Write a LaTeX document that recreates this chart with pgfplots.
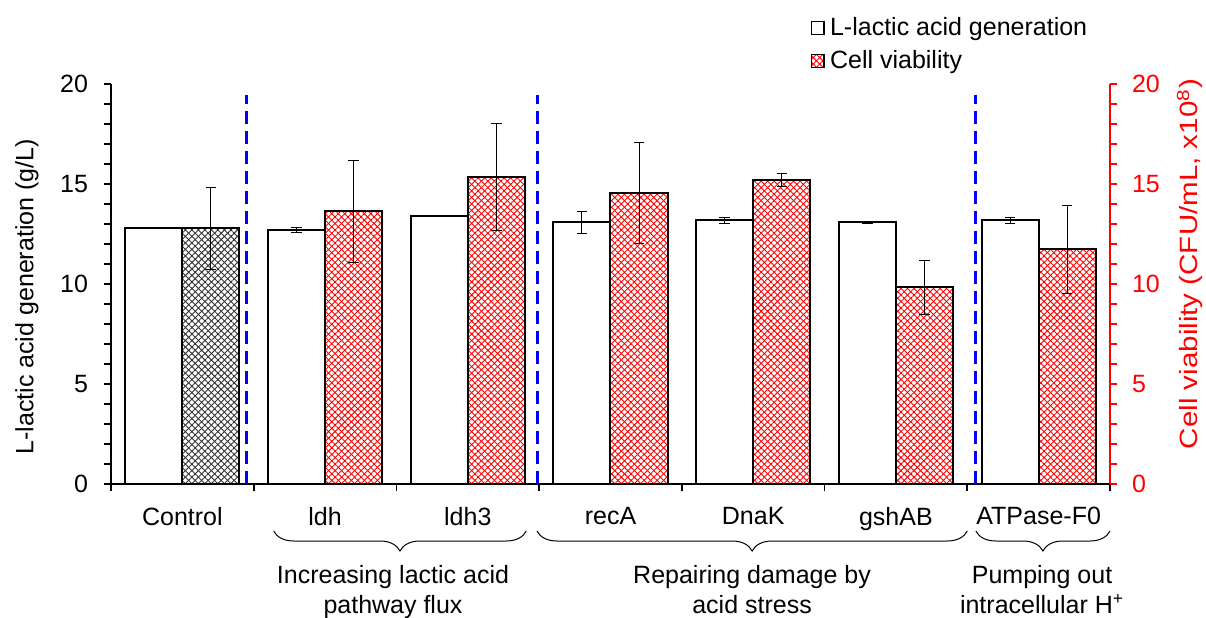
\documentclass[border=0pt]{standalone}
\usepackage{fontspec}
\setmainfont{Liberation Sans}
\usepackage{pgfplots}
\usepackage{pgfplotstable}
\pgfplotsset{compat=1.18}
\usetikzlibrary{patterns,patterns.meta,decorations.pathreplacing}

\newcommand\chartfont{\fontsize{12.5}{15}\selectfont}

% L-lactic acid generation (g/L) with standard deviation
\pgfplotstableread{
x  val    err
0  12.80  0.00
1  12.70  0.12
2  13.40  0.03
3  13.10  0.55
4  13.20  0.15
5  13.10  0.05
6  13.20  0.15
}\lactic

% Cell viability (CFU/mL, x10^8) of the engineered strains
\pgfplotstableread{
x  val    err
1  13.65  2.55
2  15.35  2.70
3  14.55  2.50
4  15.20  0.35
5  9.85   1.35
6  11.75  2.20
}\viability

% Cell viability of the control strain
\pgfplotstableread{
x  val    err
0  12.80  2.05
}\viabilityctrl

\tikzset{
  hatch/.style={fill=white,
    postaction={pattern={Lines[angle=45,distance=2.3pt,line width=0.45pt]}, pattern color=#1},
    postaction={pattern={Lines[angle=-45,distance=2.3pt,line width=0.45pt]}, pattern color=#1}},
}
\pgfplotsset{
  barerr/.style={error bars/.cd, y dir=both, y explicit,
    error bar style={line width=0.5pt, black},
    error mark options={rotate=90, mark size=2.6pt, line width=0.5pt, black}},
}

\begin{document}
\begin{tikzpicture}[font=\chartfont]
\useasboundingbox (0,0) rectangle (603pt,308.5pt);
\begin{axis}[
  at={(55.5pt,66.5pt)}, anchor=south west,
  scale only axis, width=499.5pt, height=200pt,
  xmin=-0.5, xmax=6.5, ymin=0, ymax=20,
  enlarge x limits=false,
  axis x line*=bottom, axis y line*=left,
  axis line style={line width=0.8pt},
  clip=false,
  xtick={-0.5,0.5,1.5,2.5,3.5,4.5,5.5,6.5},
  xticklabels={Control,ldh,ldh3,recA,DnaK,gshAB,ATPase-F0,{}},
  xticklabel style={xshift=35.68pt, yshift=-4.5pt},
  yticklabel style={xshift=-4.5pt},
  ytick={0,5,10,15,20},
  minor y tick num=4,
  tick align=outside,
  major tick length=3.5pt, minor tick length=3.5pt,
  every tick/.style={black, line width=0.8pt},
  /pgf/number format/assume math mode=true,
  every axis y label/.style={at={(axis description cs:-0.0841,0.468)}, anchor=center, rotate=90},
  ylabel={L-lactic acid generation (g/L)},
  legend style={at={(axis description cs:0.7,1.175)}, anchor=north west,
    draw=none, fill=none, inner sep=0pt, row sep=3pt, column sep=1pt,
    nodes={inner sep=1.5pt}},
  legend cell align=left,
]
% white bars: lactic acid (left half of each category)
\addplot[ybar, bar width=0.4, bar shift=0, draw=black, line width=1pt, fill=white,
  forget plot, barerr] table[x expr=\thisrow{x}-0.2, y=val, y error=err] {\lactic};
% red hatched bars: viability (right half of each category)
\addplot[ybar, bar width=0.4, bar shift=0, draw=black, line width=1pt, hatch=red,
  forget plot, barerr] table[x expr=\thisrow{x}+0.2, y=val, y error=err] {\viability};
% grey hatched bar: control viability
\addplot[ybar, bar width=0.4, bar shift=0, draw=black, line width=1pt, hatch=black!80,
  forget plot, barerr] table[x expr=\thisrow{x}+0.2, y=val, y error=err] {\viabilityctrl};

\addlegendimage{legend image code/.code={\draw[black, line width=0.8pt, fill=white] (0pt,-3.2pt) rectangle (6.4pt,3.2pt);}}
\addlegendentry{L-lactic acid generation}
\addlegendimage{legend image code/.code={\draw[black, line width=0.8pt, hatch=red] (0pt,-3.2pt) rectangle (6.4pt,3.2pt);}}
\addlegendentry{Cell viability}

% group separators
\draw[blue, line width=1.5pt, dash pattern=on 6.5pt off 3.5pt]
  (axis cs:0.446,0) -- (axis cs:0.446,19.45)
  (axis cs:2.492,0) -- (axis cs:2.492,19.45)
  (axis cs:5.555,0) -- (axis cs:5.555,19.45);

% group braces and descriptions
\draw[decorate, decoration={brace, mirror, amplitude=10pt}, line width=0.5pt]
  (axis cs:0.64,-2.35) -- (axis cs:2.41,-2.35);
\draw[decorate, decoration={brace, mirror, amplitude=10pt}, line width=0.5pt]
  (axis cs:2.485,-2.35) -- (axis cs:5.50,-2.35);
\draw[decorate, decoration={brace, mirror, amplitude=10pt}, line width=0.5pt]
  (axis cs:5.56,-2.35) -- (axis cs:6.50,-2.35);
\node[align=center, anchor=north, inner sep=0pt] at (axis cs:1.476,-4.05)
  {Increasing lactic acid\\pathway flux};
\node[align=center, anchor=north, inner sep=0pt] at (axis cs:3.992,-4.05)
  {Repairing damage by\\acid stress};
\node[align=center, anchor=north, inner sep=0pt] at (axis cs:6.024,-4.05)
  {Pumping out\\intracellular H\textsuperscript{+}};
\end{axis}

\begin{axis}[
  at={(55.5pt,66.5pt)}, anchor=south west,
  scale only axis, width=499.5pt, height=200pt,
  xmin=-0.5, xmax=6.5, ymin=0, ymax=20,
  hide x axis,
  axis y line*=right,
  y axis line style={red, line width=0.8pt},
  ytick={0,5,10,15,20},
  minor y tick num=4,
  tick align=outside,
  major tick length=3.5pt, minor tick length=3.5pt,
  every tick/.style={red, line width=0.8pt},
  yticklabel style={red, xshift=4pt},
  /pgf/number format/assume math mode=true,
  every axis y label/.style={at={(axis description cs:1.080,0.55)}, anchor=center,
    rotate=90, xscale=1.18, red},
  ylabel={Cell viability (CFU/mL, x10\textsuperscript{8})},
]
\end{axis}
\end{tikzpicture}
\end{document}
